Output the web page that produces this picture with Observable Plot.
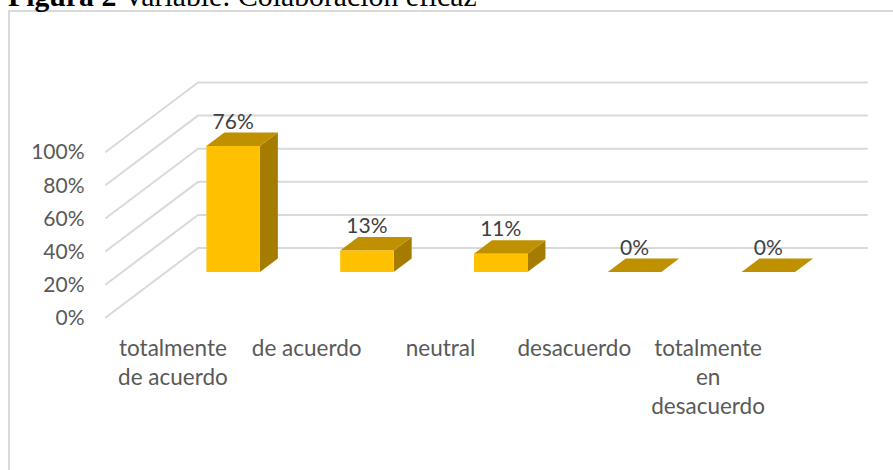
<!DOCTYPE html>
<html><head><meta charset="utf-8">
<script src="https://cdn.jsdelivr.net/npm/d3@7"></script>
<script src="https://cdn.jsdelivr.net/npm/@observablehq/plot@0.6"></script>
<style>
html,body{margin:0;padding:0;background:#fff;overflow:hidden}
#wrap{position:relative;width:893px;height:470px;overflow:hidden}
#title{position:absolute;left:8px;top:-21px;font:29.75px "Liberation Serif",serif;color:#000;white-space:nowrap}
#title b{font-weight:bold}
#frame{position:absolute;left:8px;top:10px;width:900px;height:480px;border:2px solid #d9d9d9;box-sizing:border-box}
#chart{position:absolute;left:0;top:0}
</style></head><body>
<div id="wrap"><div id="frame"></div><div id="title"><b>Figura 2</b> Variable: Colaboración eficaz</div><div id="chart"></div></div>
<script>
const categories = ["totalmente\nde acuerdo","de acuerdo","neutral","desacuerdo","totalmente\nen\ndesacuerdo"];
const values = [76,13,11,0,0];
const gridTicks = [0,20,40,60,80,100];

// oblique projection: depth (0 front of floor, 1 back wall) shifts in data units
const shiftX = 0.6876, shiftY = 41.8;
const barFront = 0.655, barBack = 0.85, barHalf = 0.2;
const px = (u,d) => u + d*shiftX;
const py = (v,d) => v + d*shiftY;

const gridPts = gridTicks.flatMap(t => [
  {t, x:px(0,0), y:py(t,0)},
  {t, x:px(0,1), y:py(t,1)},
  {t, x:px(5,1), y:py(t,1)}
]);
const bars = values.map((v,i)=>({v,i,c:i+0.5}));
const face = (fn) => bars.flatMap(b => fn(b).map(([u,val,d]) => ({k:b.i, x:px(u,d), y:py(val,d)})));
const front = face(b => { const l=b.c-barHalf,r=b.c+barHalf; return [[l,0,barFront],[r,0,barFront],[r,b.v,barFront],[l,b.v,barFront]]; });
const side = face(b => { const r=b.c+barHalf; return [[r,0,barFront],[r,0,barBack],[r,b.v,barBack],[r,b.v,barFront]]; });
const top_ = face(b => { const l=b.c-barHalf,r=b.c+barHalf; return [[l,b.v,barFront],[r,b.v,barFront],[r,b.v,barBack],[l,b.v,barBack]]; });

const chart = Plot.plot({
  width:893, height:470, marginLeft:106, marginRight:118, marginTop:0, marginBottom:0,
  style:{background:"transparent", fontFamily:"Lato, sans-serif"},
  x:{type:"linear", domain:[0,5], range:[105.5,774.5], axis:null},
  y:{type:"linear", domain:[0,100], range:[316.8,151.2], axis:null},
  marks:[
    Plot.line(gridPts,{x:"x",y:"y",z:"t",stroke:"#d9d9d9",strokeWidth:2,curve:"linear"}),
    Plot.line(side,{x:"x",y:"y",z:"k",fill:"#a67c00",stroke:"none"}),
    Plot.line(top_,{x:"x",y:"y",z:"k",fill:"#bf9000",stroke:"none"}),
    Plot.line(front,{x:"x",y:"y",z:"k",fill:"#ffc000",stroke:"none"}),
    Plot.axisY({ticks:gridTicks,tickFormat:d=>d+"%",tickSize:0,tickPadding:22,fontSize:21,color:"#595959",label:null,dy:1}),
    Plot.text(bars,{x:d=>px(d.c,barFront),y:d=>py(d.v,barBack),dy:-10.5,text:d=>d.v+"%",fontSize:21,fill:"#404040"}),
    Plot.text(bars,{x:"c",y:()=>0,dy:18.5,lineAnchor:"top",text:d=>categories[d.i],fontSize:22.5,lineHeight:1.29,fill:"#595959"})
  ]
});
document.getElementById("chart").append(chart);
</script></body></html>
